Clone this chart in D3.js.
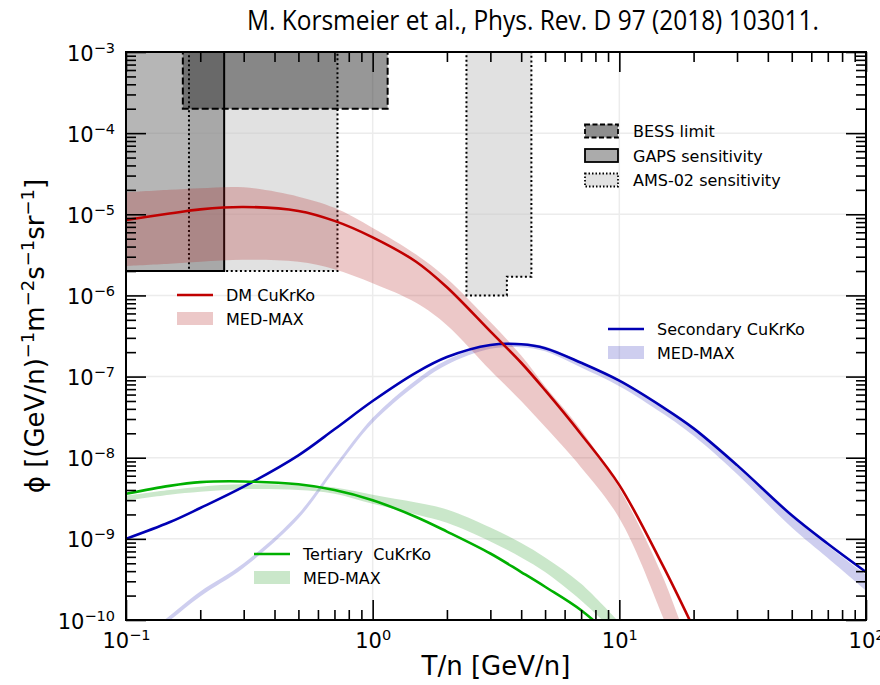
<!DOCTYPE html>
<html>
<head>
<meta charset="utf-8">
<script src="https://cdn.jsdelivr.net/npm/d3@7"></script>
<style>
  body { margin: 0; background: #fff; }
  svg text { font-family: "DejaVu Sans", sans-serif; fill: #000; }
</style>
</head>
<body>
<div id="vis"></div>
<script>
// kinetic energy per nucleon grid (GeV/n)
const T_GRID = [0.1, 0.15, 0.2, 0.3, 0.5, 0.7, 1, 1.5, 2, 3, 4, 5, 7, 10, 15, 20, 30, 50, 70, 100];

// DM antideuteron flux (CuKrKo) and MED-MAX band, until it leaves the plot
const DM_LINE = [8.5e-6, 1.02e-5, 1.15e-5, 1.23e-5, 1.1e-5, 8.3e-6, 5.2e-6, 2.6e-6, 1.26e-6, 3.6e-7, 1.48e-7, 6.8e-8, 1.95e-8, 4.6e-9, 4.7e-10, 7.9e-11];
const DM_HIGH = [1.86e-5, 2.0e-5, 2.1e-5, 2.15e-5, 1.65e-5, 1.2e-5, 6.8e-6, 3.2e-6, 1.62e-6, 4.7e-7, 1.82e-7, 7.6e-8, 2.2e-8, 4.2e-9, 3.4e-10, 3.2e-11];
const DM_LOW = [2.3e-6, 2.45e-6, 2.6e-6, 2.75e-6, 2.6e-6, 2.1e-6, 1.41e-6, 8.1e-7, 4.3e-7, 1.2e-7, 5.0e-8, 2.4e-8, 7.6e-9, 1.8e-9, 1.1e-10, 1.0e-11];

// secondary flux
const SEC_LINE = [1.0e-9, 1.6e-9, 2.4e-9, 4.4e-9, 1.07e-8, 2.24e-8, 5.0e-8, 1.12e-7, 1.74e-7, 2.45e-7, 2.5e-7, 2.24e-7, 1.48e-7, 8.9e-8, 4.2e-8, 2.3e-8, 8.1e-9, 1.95e-9, 8.7e-10, 3.9e-10];
const SEC_HIGH = [4.4e-11, 1.12e-10, 2.24e-10, 5.0e-10, 2.04e-9, 7.9e-9, 3.1e-8, 9.1e-8, 1.6e-7, 2.5e-7, 2.6e-7, 2.35e-7, 1.51e-7, 9.1e-8, 4.3e-8, 2.3e-8, 8.0e-9, 1.9e-9, 8.2e-10, 3.6e-10];
const SEC_LOW = [3.8e-11, 9.8e-11, 1.95e-10, 4.4e-10, 1.78e-9, 6.9e-9, 2.7e-8, 7.9e-8, 1.4e-7, 2.2e-7, 2.3e-7, 2.05e-7, 1.29e-7, 7.6e-8, 3.5e-8, 1.86e-8, 6.3e-9, 1.38e-9, 5.8e-10, 2.3e-10];

// tertiary flux
const TER_LINE = [3.6e-9, 4.5e-9, 5.0e-9, 5.1e-9, 4.7e-9, 4.0e-9, 3.0e-9, 1.86e-9, 1.23e-9, 6.6e-10, 3.9e-10, 2.57e-10, 1.32e-10, 5.1e-11];
const TER_HIGH = [3.4e-9, 4.0e-9, 4.4e-9, 4.7e-9, 4.6e-9, 4.3e-9, 3.5e-9, 2.8e-9, 2.3e-9, 1.38e-9, 8.9e-10, 5.9e-10, 2.8e-10, 9.3e-11];
const TER_LOW = [2.95e-9, 3.5e-9, 3.8e-9, 4.1e-9, 4.0e-9, 3.6e-9, 2.7e-9, 2.0e-9, 1.58e-9, 9.3e-10, 5.9e-10, 3.9e-10, 1.74e-10, 6.3e-11];

// experiment regions, [T, flux] corners (tops run past the frame)
const BESS_LIMIT = [[0.17, 2e-3], [0.17, 2e-4], [1.15, 2e-4], [1.15, 2e-3]];
const GAPS_SENS = [[0.1, 2e-3], [0.1, 2e-6], [0.25, 2e-6], [0.25, 2e-3]];
const AMS_SENS_LOW = [[0.18, 2e-3], [0.18, 2e-6], [0.72, 2e-6], [0.72, 2e-3]];
const AMS_SENS_HIGH = [[2.4, 2e-3], [2.4, 1e-6], [3.5, 1e-6], [3.5, 1.7e-6], [4.4, 1.7e-6], [4.4, 2e-3]];

// tick labels
const X_MAJOR = [0.1, 1, 10, 100];
const X_EXP = ["−1", "0", "1", "2"];
const Y_MAJOR = [1e-10, 1e-9, 1e-8, 1e-7, 1e-6, 1e-5, 1e-4, 1e-3];
const Y_EXP = ["−10", "−9", "−8", "−7", "−6", "−5", "−4", "−3"];

const FRAME_WIDTH = 880;
const FRAME_HEIGHT = 685;
const MARGINS = {left: 126, right: 14, top: 52, bottom: 65};

const X_SCALE = d3.scaleLog()
                  .domain([0.1, 100])
                  .range([MARGINS.left, FRAME_WIDTH - MARGINS.right]);
const Y_SCALE = d3.scaleLog()
                  .domain([1e-10, 1e-3])
                  .range([FRAME_HEIGHT - MARGINS.bottom, MARGINS.top]);

const X0 = X_SCALE.range()[0], X1 = X_SCALE.range()[1];
const Y0 = Y_SCALE.range()[1], Y1 = Y_SCALE.range()[0];

const SVG = d3.select("#vis")
              .append("svg")
                .attr("width", FRAME_WIDTH)
                .attr("height", FRAME_HEIGHT);

SVG.append("defs").append("clipPath")
    .attr("id", "plot-clip")
  .append("rect")
    .attr("x", X0).attr("y", Y0)
    .attr("width", X1 - X0).attr("height", Y1 - Y0);

// minor tick values, 2..9 in every decade
function minorTicks(lo, hi) {
  const out = [];
  for (let e = lo; e < hi; e++) {
    for (let m = 2; m <= 9; m++) out.push(m * Math.pow(10, e));
  }
  return out;
}
const X_MINOR = minorTicks(-1, 2);
const Y_MINOR = minorTicks(-10, -3);

// grid at the decades
const GRID = SVG.append("g").attr("stroke", "#ececec").attr("stroke-width", 1.5);
GRID.selectAll("line.gx")
    .data(X_MAJOR.slice(1, -1))
    .enter().append("line")
      .attr("x1", (d) => X_SCALE(d)).attr("x2", (d) => X_SCALE(d))
      .attr("y1", Y0).attr("y2", Y1);
GRID.selectAll("line.gy")
    .data(Y_MAJOR.slice(1, -1))
    .enter().append("line")
      .attr("x1", X0).attr("x2", X1)
      .attr("y1", (d) => Y_SCALE(d)).attr("y2", (d) => Y_SCALE(d));

const PLOT = SVG.append("g").attr("clip-path", "url(#plot-clip)");

const regionPath = d3.line()
                     .x((d) => X_SCALE(d[0]))
                     .y((d) => Y_SCALE(d[1]));

// experiment boxes: fills first, borders after
const REGIONS = [
  {pts: AMS_SENS_LOW, fill: "#c4c4c4", op: 0.5, dash: "2,2.6"},
  {pts: AMS_SENS_HIGH, fill: "#c4c4c4", op: 0.5, dash: "2,2.6"},
  {pts: GAPS_SENS, fill: "#7a7a7a", op: 0.55, dash: null},
  {pts: BESS_LIMIT, fill: "#262626", op: 0.48, dash: "7,3"}
];
REGIONS.forEach((r) => {
  PLOT.append("path")
      .attr("d", regionPath(r.pts) + "Z")
      .attr("fill", r.fill)
      .attr("fill-opacity", r.op)
      .attr("stroke", "none");
});
REGIONS.forEach((r) => {
  PLOT.append("path")
      .attr("d", regionPath(r.pts) + "Z")
      .attr("fill", "none")
      .attr("stroke", "#000")
      .attr("stroke-width", 2)
      .attr("stroke-dasharray", r.dash);
});

// flux curves
function pack(lo, hi, mid) {
  return mid.map((v, i) => ({t: T_GRID[i], lo: lo[i], hi: hi[i], v: v}));
}
const SERIES = [
  {rows: pack(SEC_LOW, SEC_HIGH, SEC_LINE), line: "#0000b4", band: "#3a3ac0"},
  {rows: pack(TER_LOW, TER_HIGH, TER_LINE), line: "#00b000", band: "#2ca02c"},
  {rows: pack(DM_LOW, DM_HIGH, DM_LINE), line: "#c00000", band: "#b22222"}
];

const BAND = d3.area()
               .x((d) => X_SCALE(d.t))
               .y0((d) => Y_SCALE(d.lo))
               .y1((d) => Y_SCALE(d.hi))
               .curve(d3.curveCatmullRom.alpha(0.5));
const LINE = d3.line()
               .x((d) => X_SCALE(d.t))
               .y((d) => Y_SCALE(d.v))
               .curve(d3.curveCatmullRom.alpha(0.5));

SERIES.forEach((s) => {
  PLOT.append("path")
      .datum(s.rows)
      .attr("d", BAND)
      .attr("fill", s.band)
      .attr("fill-opacity", 0.25);
});
SERIES.forEach((s) => {
  PLOT.append("path")
      .datum(s.rows)
      .attr("d", LINE)
      .attr("fill", "none")
      .attr("stroke", s.line)
      .attr("stroke-width", 2.6);
});

// axes, ticks pointing inwards on all four sides
function addAxis(axisFn, scale, pos, values, size) {
  const g = SVG.append("g")
               .attr("transform", pos)
               .call(axisFn(scale).tickValues(values).tickSize(-size).tickFormat(""));
  g.select(".domain").remove();
  g.selectAll(".tick line").attr("stroke", "#000").attr("stroke-width", 1.6);
  return g;
}
addAxis(d3.axisBottom, X_SCALE, "translate(0," + Y1 + ")", X_MINOR, 10);
addAxis(d3.axisTop, X_SCALE, "translate(0," + Y0 + ")", X_MINOR, 10);
addAxis(d3.axisLeft, Y_SCALE, "translate(" + X0 + ",0)", Y_MINOR, 10);
addAxis(d3.axisRight, Y_SCALE, "translate(" + X1 + ",0)", Y_MINOR, 10);
addAxis(d3.axisTop, X_SCALE, "translate(0," + Y0 + ")", X_MAJOR, 20);
addAxis(d3.axisRight, Y_SCALE, "translate(" + X1 + ",0)", Y_MAJOR, 20);

const X_AXIS = addAxis(d3.axisBottom, X_SCALE, "translate(0," + Y1 + ")", X_MAJOR, 20);
const Y_AXIS = addAxis(d3.axisLeft, Y_SCALE, "translate(" + X0 + ",0)", Y_MAJOR, 20);

function powerLabel(sel, exps) {
  sel.each(function(d, i) {
    const t = d3.select(this).text(null).attr("font-size", 21);
    t.append("tspan").text("10");
    t.append("tspan").attr("font-size", 14.5).attr("dy", -8).text(exps[i]);
  });
}
X_AXIS.selectAll(".tick text")
      .attr("y", 28).attr("dy", null)
      .call(powerLabel, X_EXP);
Y_AXIS.selectAll(".tick text")
      .attr("x", -11).attr("dy", 8)
      .call(powerLabel, Y_EXP);

SVG.append("rect")
    .attr("x", X0).attr("y", Y0)
    .attr("width", X1 - X0).attr("height", Y1 - Y0)
    .attr("fill", "none")
    .attr("stroke", "#000")
    .attr("stroke-width", 2);

// axis titles
SVG.append("text")
    .attr("x", (X0 + X1) / 2).attr("y", 675)
    .attr("text-anchor", "middle")
    .attr("font-size", 26)
    .text("T/n [GeV/n]");

const YT = SVG.append("text")
              .attr("transform", "translate(44," + ((Y0 + Y1) / 2) + ") rotate(-90)")
              .attr("text-anchor", "middle")
              .attr("font-size", 26);
[["ϕ [(GeV/n)", 0], ["−1", 1], ["m", 0], ["−2", 1], ["s", 0], ["−1", 1], ["sr", 0], ["−1", 1], ["]", 0]]
  .forEach((p, i, arr) => {
    const prevSup = i > 0 && arr[i - 1][1] === 1;
    YT.append("tspan")
      .attr("font-size", p[1] ? 18 : 26)
      .attr("dy", p[1] ? -10 : (prevSup ? 10 : 0))
      .text(p[0]);
  });

// title
SVG.append("text")
    .attr("x", 533).attr("y", 30)
    .attr("text-anchor", "middle")
    .attr("font-size", 27)
    .attr("textLength", 572)
    .attr("lengthAdjust", "spacingAndGlyphs")
    .style("font-family", "'Liberation Sans Narrow', 'Open Sans', sans-serif")
    .text("M. Korsmeier et al., Phys. Rev. D 97 (2018) 103011.");

// legends
const BOX_LEGEND = [
  {label: "BESS limit", fill: "#8e8e8e", dash: "5,2.5"},
  {label: "GAPS sensitivity", fill: "#ababab", dash: null},
  {label: "AMS-02 sensitivity", fill: "#e2e2e2", dash: "1.5,2"}
];
BOX_LEGEND.forEach((d, i) => {
  const cy = 131 + i * 24.5;
  SVG.append("rect")
      .attr("x", 585).attr("y", cy - 6.5)
      .attr("width", 33).attr("height", 13)
      .attr("fill", d.fill)
      .attr("stroke", "#000").attr("stroke-width", 1.8)
      .attr("stroke-dasharray", d.dash);
  SVG.append("text")
      .attr("x", 633).attr("y", cy + 6)
      .attr("font-size", 16)
      .text(d.label);
});

const CURVE_LEGEND = [
  {x: 177, y: 295, name: "DM CuKrKo", s: SERIES[2]},
  {x: 608, y: 329, name: "Secondary CuKrKo", s: SERIES[0]},
  {x: 254, y: 554, name: "Tertiary  CuKrKo", s: SERIES[1]}
];
CURVE_LEGEND.forEach((d) => {
  SVG.append("line")
      .attr("x1", d.x).attr("x2", d.x + 36)
      .attr("y1", d.y).attr("y2", d.y)
      .attr("stroke", d.s.line).attr("stroke-width", 2.6);
  SVG.append("rect")
      .attr("x", d.x).attr("y", d.y + 17)
      .attr("width", 36).attr("height", 13)
      .attr("fill", d.s.band).attr("fill-opacity", 0.25);
  SVG.append("text")
      .attr("x", d.x + 49).attr("y", d.y + 6)
      .attr("font-size", 16)
      .style("white-space", "pre")
      .attr("xml:space", "preserve")
      .text(d.name);
  SVG.append("text")
      .attr("x", d.x + 49).attr("y", d.y + 30)
      .attr("font-size", 16)
      .text("MED-MAX");
});
</script>
</body>
</html>
